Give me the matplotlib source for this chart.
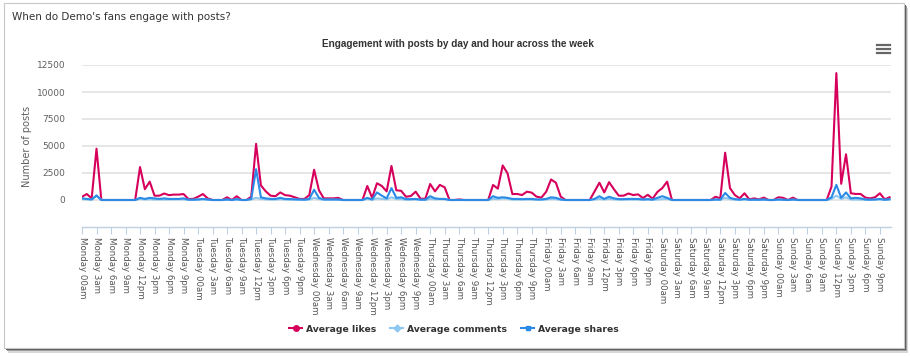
import numpy as np
import matplotlib
matplotlib.use("Agg")
import matplotlib.pyplot as plt
from matplotlib.lines import Line2D
from matplotlib.patches import Rectangle

################################################################################
## DATA - hourly averages, Monday 00am .. Sunday 11pm
################################################################################

days = ["Monday", "Tuesday", "Wednesday", "Thursday", "Friday", "Saturday", "Sunday"]
hour_labels = ["00am", "3am", "6am", "9am", "12pm", "3pm", "6pm", "9pm"]

avg_likes = [
    # Monday
    300, 550, 150, 4750, 0, 0, 0, 0, 0, 0, 0, 0,
    3050, 1000, 1700, 400, 400, 600, 450, 500, 500, 550, 100, 100,
    # Tuesday
    300, 550, 150, 0, 0, 0, 250, 0, 350, 0, 0, 300,
    5200, 1350, 800, 400, 350, 700, 450, 400, 250, 100, 100, 450,
    # Wednesday
    2800, 900, 150, 150, 150, 200, 0, 0, 0, 0, 0, 1300,
    200, 1550, 1300, 800, 3150, 900, 850, 300, 370, 770, 120, 120,
    # Thursday
    1480, 800, 1400, 1170, 0, 0, 50, 0, 0, 0, 0, 0,
    0, 1390, 1050, 3200, 2470, 550, 560, 460, 770, 680, 310, 220,
    # Friday
    770, 1900, 1600, 310, 0, 0, 0, 0, 0, 0, 800, 1600,
    700, 1650, 1000, 400, 400, 600, 460, 520, 180, 480, 120, 750,
    # Saturday
    1100, 1700, 0, 0, 0, 0, 0, 0, 0, 0, 0, 300,
    150, 4380, 1100, 460, 150, 620, 60, 150, 60, 220, 0, 0,
    # Sunday
    250, 200, 0, 220, 0, 0, 0, 0, 0, 0, 0, 1240,
    11750, 1500, 4230, 620, 560, 560, 220, 150, 250, 620, 60, 250,
]

avg_comments = [
    80, 60, 30, 450, 0, 0, 0, 0, 0, 0, 0, 0,
    100, 50, 80, 50, 50, 60, 40, 50, 40, 60, 10, 10,
    30, 50, 20, 0, 0, 0, 20, 0, 30, 0, 0, 40,
    200, 100, 60, 40, 40, 80, 40, 30, 20, 10, 10, 40,
    200, 80, 20, 20, 20, 20, 0, 0, 0, 0, 0, 100,
    20, 150, 100, 60, 250, 80, 80, 30, 30, 50, 10, 10,
    100, 60, 80, 60, 0, 0, 0, 0, 0, 0, 0, 0,
    0, 100, 80, 150, 120, 40, 40, 30, 50, 40, 20, 20,
    50, 100, 80, 20, 0, 0, 0, 0, 0, 0, 50, 100,
    50, 100, 60, 30, 30, 40, 30, 40, 10, 30, 10, 50,
    80, 100, 0, 0, 0, 0, 0, 0, 0, 0, 0, 20,
    10, 200, 80, 30, 10, 40, 5, 10, 5, 20, 0, 0,
    20, 10, 0, 20, 0, 0, 0, 0, 0, 0, 0, 100,
    400, 100, 250, 50, 50, 40, 20, 10, 20, 50, 5, 20,
]

avg_shares = [
    150, 100, 50, 400, 0, 0, 0, 0, 0, 0, 0, 0,
    200, 100, 200, 150, 100, 150, 100, 100, 100, 150, 30, 30,
    50, 100, 50, 0, 0, 0, 50, 0, 80, 0, 0, 100,
    2850, 250, 150, 100, 100, 200, 100, 80, 50, 30, 30, 100,
    950, 200, 50, 50, 50, 50, 0, 0, 0, 0, 0, 200,
    50, 700, 400, 150, 1100, 200, 250, 80, 80, 100, 30, 30,
    350, 150, 100, 100, 0, 0, 0, 0, 0, 0, 0, 0,
    0, 350, 200, 250, 200, 100, 100, 80, 100, 100, 50, 50,
    100, 250, 200, 50, 0, 0, 0, 0, 0, 0, 100, 350,
    100, 300, 150, 80, 80, 100, 100, 100, 50, 80, 30, 200,
    350, 200, 0, 0, 0, 0, 0, 0, 0, 0, 0, 50,
    30, 650, 200, 80, 30, 100, 20, 30, 20, 50, 0, 0,
    50, 30, 0, 50, 0, 0, 0, 0, 0, 0, 0, 250,
    1400, 200, 700, 150, 200, 150, 50, 30, 50, 100, 20, 80,
]

y_ticks = [0, 2500, 5000, 7500, 10000, 12500]

################################################################################
## PLOT
################################################################################

W, H = 910, 356
fig = plt.figure(figsize=(W / 100, H / 100), dpi=100)
fig.patch.set_facecolor("white")

## card frame with a soft shadow at the bottom / right
for off, col in [(5, "#d8d8d8"), (3, "#a0a0a0"), (1.5, "#5a5a5a")]:
    fig.patches.append(Rectangle(((5 + off * 0.6) / W, (H - 348 - off) / H), 900 / W, 345 / H,
                                 transform=fig.transFigure, facecolor=col,
                                 edgecolor="none", zorder=-3))
fig.patches.append(Rectangle((4 / W, (H - 348) / H), 900 / W, 345 / H,
                             transform=fig.transFigure, facecolor="white",
                             edgecolor="#c8c8c8", linewidth=0.8, zorder=-2))

fig.text(12 / W, 1 - 17 / H, "When do Demo's fans engage with posts?",
         fontsize=7.5, color="#333333", ha="left", va="center")
fig.text(458 / W, 1 - 44 / H, "Engagement with posts by day and hour across the week",
         fontsize=7.2, fontweight="bold", color="#333333", ha="center", va="center",
         family="Liberation Sans")

## hamburger menu icon
for yy in (45, 49, 53):
    fig.add_artist(Line2D([877 / W, 890 / W], [1 - yy / H, 1 - yy / H],
                          transform=fig.transFigure, color="#666666", linewidth=1.6))

ax = fig.add_axes([82 / W, 1 - 227 / H, (891 - 82) / W, (227 - 65) / H])
ax.set_facecolor("none")
ax.set_zorder(5)

x = np.arange(len(avg_likes))
c_likes, c_comments, c_shares = "#d6005c", "#8ec8f0", "#2a8ae6"
ax.plot(x, avg_likes, color=c_likes, linewidth=1.5, zorder=3)
ax.plot(x, avg_comments, color=c_comments, linewidth=1.5, zorder=4)
ax.plot(x, avg_shares, color=c_shares, linewidth=1.5, zorder=5)

ax.set_xlim(0, 167.3)
ax.set_ylim(-2500, 12500)
ax.set_yticks(y_ticks)
ax.set_yticklabels([str(v) for v in y_ticks], fontsize=6.5, color="#606060")
ax.grid(axis="y", color="#e4e4e4", linewidth=1.3, zorder=0)
ax.tick_params(axis="y", length=0, pad=12)

tick_pos = np.arange(0, len(avg_likes), 3)
tick_text = [f"{d} {h}" for d in days for h in hour_labels]
ax.set_xticks(tick_pos)
ax.set_xticklabels(tick_text, rotation=270, fontsize=6.2, color="#555555",
                   ha="center", va="top")
ax.tick_params(axis="x", length=5, width=0.8, color="#c0d0e0", pad=2)

for side in ["top", "right", "left"]:
    ax.spines[side].set_visible(False)
ax.spines["bottom"].set_color("#c0d0e0")
ax.spines["bottom"].set_linewidth(1.0)

ax.set_ylabel("Number of posts", fontsize=7, color="#606060", labelpad=3)

handles = [
    Line2D([], [], color=c_likes, linewidth=1.5, marker="o", markersize=4),
    Line2D([], [], color=c_comments, linewidth=1.5, marker="D", markersize=3.5),
    Line2D([], [], color=c_shares, linewidth=1.5, marker="s", markersize=3.5),
]
fig.legend(handles, ["Average likes", "Average comments", "Average shares"],
           loc="center", bbox_to_anchor=(454 / W, 1 - 329 / H), ncol=3,
           frameon=False, handlelength=1.4, handletextpad=0.4, columnspacing=1.5,
           prop={"size": 6.7, "weight": "bold"}, labelcolor="#333333")

fig.savefig("out.png", dpi=100)
